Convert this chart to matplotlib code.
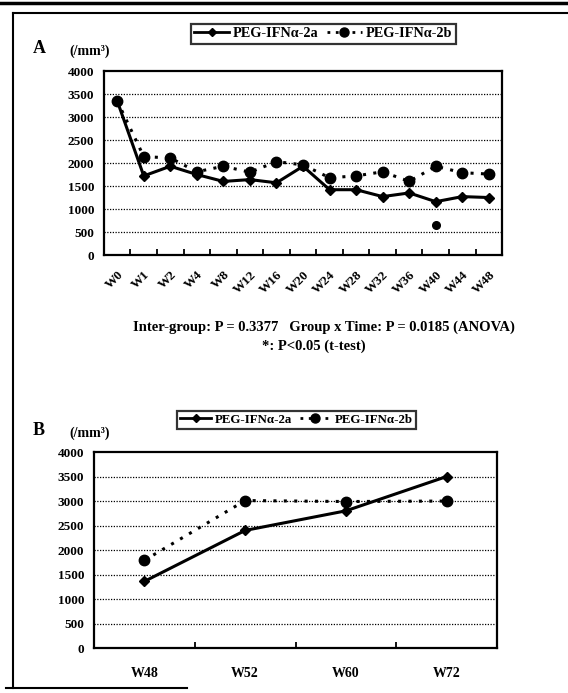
import matplotlib
matplotlib.use("Agg")
import matplotlib.pyplot as plt
from matplotlib.lines import Line2D
import numpy as np

plt.rcParams['font.family'] = ['Liberation Serif', 'DejaVu Serif']
plt.rcParams['font.weight'] = 'bold'

# ---- data ----
weeks_a = ["W0", "W1", "W2", "W4", "W8", "W12", "W16", "W20", "W24", "W28",
           "W32", "W36", "W40", "W44", "W48"]
peg2a_a = [3350, 1720, 1930, 1750, 1600, 1640, 1570, 1930, 1420, 1420,
           1270, 1350, 1160, 1270, 1250]
peg2b_a = [3350, 2140, 2110, 1810, 1930, 1800, 2030, 1960, 1680, 1720,
           1810, 1600, 1930, 1790, 1760]
sig_week = "W40"
sig_value = 650

weeks_b = ["W48", "W52", "W60", "W72"]
peg2a_b = [1360, 2400, 2800, 3500]
peg2b_b = [1790, 3010, 2990, 3000]

label_2a = "PEG-IFNα-2a"
label_2b = "PEG-IFNα-2b"
yticks = [0, 500, 1000, 1500, 2000, 2500, 3000, 3500, 4000]

fig = plt.figure(figsize=(5.68, 6.93), dpi=100)

def style_axes(ax, n):
    ax.set_xlim(0, n)
    ax.set_ylim(0, 4000)
    ax.set_yticks(yticks)
    ax.set_yticklabels([str(v) for v in yticks], fontsize=9.5, fontweight='bold')
    for v in yticks[1:-1]:
        ax.axhline(v, color='black', lw=0.9, ls=(0, (1, 1.2)), zorder=1)
    for s in ax.spines.values():
        s.set_linewidth(1.6)
        s.set_color('black')
    ax.tick_params(axis='y', length=0, pad=7)
    ax.set_xticks(np.arange(1, n), minor=True)
    ax.tick_params(axis='x', which='minor', direction='in', length=4, width=1.3)
    ax.tick_params(axis='x', which='major', length=0)
    ax.set_xticks(np.arange(n) + 0.5)

def draw(ax, cats, a, b):
    x = np.arange(len(cats)) + 0.5
    ax.plot(x, b, color='black', lw=2.2, ls=(0, (1, 2.4)), marker='o',
            markersize=7.5, zorder=3)
    ax.plot(x, a, color='black', lw=2.2, ls='-', marker='D',
            markersize=5, zorder=4)

def legend(fx, fy, size):
    h1 = Line2D([], [], color='black', lw=2, marker='D', markersize=4.5)
    h2 = Line2D([], [], color='black', lw=2, ls=(0, (1, 2)), marker='o', markersize=6.5)
    leg = fig.legend([h1, h2], [label_2a, label_2b], loc='center',
                     bbox_to_anchor=(fx, fy), bbox_transform=fig.transFigure,
                     ncol=2, frameon=True, fancybox=False,
                     handlelength=2.4, handletextpad=0.3, columnspacing=0.6,
                     borderpad=0.25, prop={'weight': 'bold', 'size': size})
    leg.get_frame().set_edgecolor('black')
    leg.get_frame().set_linewidth(1.6)

# ---- panel A ----
axA = fig.add_axes([0.183, 0.632, 0.701, 0.2655])
style_axes(axA, len(weeks_a))
draw(axA, weeks_a, peg2a_a, peg2b_a)
axA.plot([weeks_a.index(sig_week) + 0.5], [sig_value], 'o', color='black',
         markersize=5.5, zorder=4)
axA.set_xticklabels(weeks_a, rotation=45, ha='right', rotation_mode='anchor',
                    fontsize=9.5, fontweight='bold')
axA.tick_params(axis='x', which='major', pad=10)
legend(0.5695, 0.951, 10.3)
fig.text(0.058, 0.930, "A", fontsize=13, fontweight='bold', ha='left', va='center')
fig.text(0.122, 0.926, "(/mm³)", fontsize=10, fontweight='bold', ha='left', va='center')

fig.text(0.57, 0.528, "Inter-group: P = 0.3377   Group x Time: P = 0.0185 (ANOVA)",
         fontsize=10.5, fontweight='bold', ha='center', va='center')
fig.text(0.553, 0.500, "*: P<0.05 (t-test)", fontsize=10.5, fontweight='bold',
         ha='center', va='center')

# ---- panel B ----
axB = fig.add_axes([0.1655, 0.0649, 0.7095, 0.2828])
style_axes(axB, len(weeks_b))
draw(axB, weeks_b, peg2a_b, peg2b_b)
axB.set_xticklabels(weeks_b, fontsize=10, fontweight='bold')
axB.tick_params(axis='x', which='major', pad=14)
legend(0.522, 0.394, 9.3)
fig.text(0.058, 0.379, "B", fontsize=13, fontweight='bold', ha='left', va='center')
fig.text(0.122, 0.375, "(/mm³)", fontsize=10, fontweight='bold', ha='left', va='center')

# ---- outer frame ----
fig.add_artist(Line2D([0.0, 1.0], [0.996, 0.996], transform=fig.transFigure,
                      color='black', lw=2.5))
fig.add_artist(Line2D([0.023, 1.0], [0.981, 0.981], transform=fig.transFigure,
                      color='black', lw=1.5))
fig.add_artist(Line2D([0.023, 0.023], [0.981, 0.007], transform=fig.transFigure,
                      color='black', lw=1.5))
fig.add_artist(Line2D([0.01, 0.33], [0.007, 0.007], transform=fig.transFigure,
                      color='black', lw=1.5))

fig.savefig("out.png", dpi=100, facecolor='white')
